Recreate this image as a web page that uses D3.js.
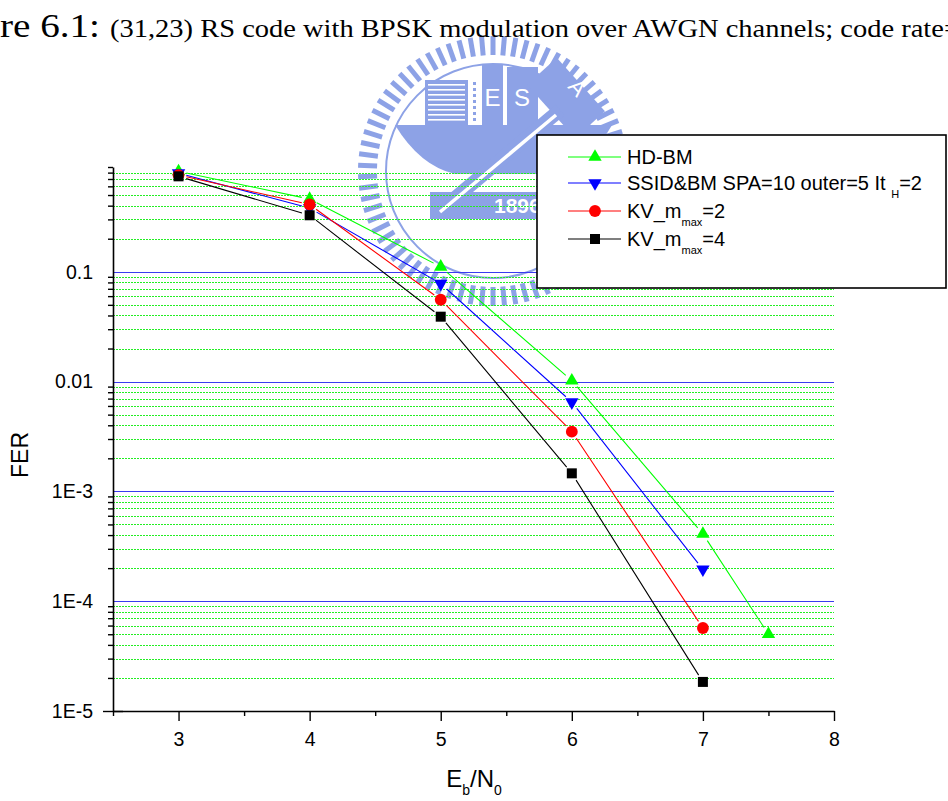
<!DOCTYPE html>
<meta charset="utf-8">
<script src="https://d3js.org/d3.v7.min.js"></script>
<style>
  body { margin: 0; background: #fff; }
  text { font-family: "Liberation Sans", Arial, sans-serif; }
</style>
<div id="my_dataviz"></div>
<script>

  // data
  var ebno = [3, 4, 5, 6, 7]
  var ebnoHD = [3, 4, 5, 6, 7, 7.5]
  var ferHD = [0.82, 0.46, 0.111, 0.0102, 4.1e-4, 5.0e-5]
  var ferSSID = [0.79, 0.38, 0.078, 6.5e-3, 1.95e-4]
  var ferKV2 = [0.76, 0.41, 0.0556, 3.5e-3, 5.7e-5]
  var ferKV4 = [0.74, 0.327, 0.039, 1.46e-3, 1.84e-5]

  var xTicks = [3, 4, 5, 6, 7, 8]
  var xMinorTicks = [2.5, 3.5, 4.5, 5.5, 6.5, 7.5]
  var yTicks = [1e-5, 1e-4, 1e-3, 0.01, 0.1]
  var yTickLabels = ["1E-5", "1E-4", "1E-3", "0.01", "0.1"]

  var width = 948, height = 801

  var svg = d3.select("#my_dataviz")
    .append("svg")
      .attr("width", width)
      .attr("height", height)

  // scales
  var x = d3.scaleLinear().domain([2.5, 8]).range([113, 834])
  var y = d3.scaleLog().domain([1e-5, 0.9]).range([711, 167])

  // minor values 2..9 in every decade
  var yMinor = []
  yTicks.forEach(function(d) {
    for (var k = 2; k <= 9; k++) {
      var v = +(k * d).toPrecision(3)
      if (v <= 0.9) yMinor.push(v)
    }
  })

  // ---- watermark logo (behind everything) ----
  var logoColor = "#8da2e6"
  var cx = 493, cy = 171
  var logo = svg.append("g").attr("fill", logoColor)
  d3.range(74).forEach(function(i) {
    logo.append("rect")
      .attr("x", cx - 2.5).attr("y", cy - 135)
      .attr("width", 5).attr("height", 19)
      .attr("transform", "rotate(" + (i * 360 / 74) + "," + cx + "," + cy + ")")
  })
  logo.append("circle").attr("cx", cx).attr("cy", cy).attr("r", 107)
    .attr("fill", "none").attr("stroke", logoColor).attr("stroke-width", 2)
  // striped block
  logo.append("rect").attr("x", 425).attr("y", 80).attr("width", 43).attr("height", 45)
  d3.range(8).forEach(function(i) {
    logo.append("rect").attr("x", 428).attr("y", 84 + i * 5).attr("width", 37).attr("height", 1.6).attr("fill", "#fff")
  })
  d3.range(7).forEach(function(i) {
    logo.append("rect").attr("x", 473).attr("y", 82 + i * 6).attr("width", 3).attr("height", 3)
  })
  logo.append("rect").attr("x", 482).attr("y", 65).attr("width", 21).attr("height", 60)
  logo.append("rect").attr("x", 507).attr("y", 67).attr("width", 31).attr("height", 58)
  logo.append("text").attr("x", 492.5).attr("y", 106).attr("text-anchor", "middle")
    .attr("fill", "#fff").style("font-size", "24px").text("E")
  logo.append("text").attr("x", 522).attr("y", 106).attr("text-anchor", "middle")
    .attr("fill", "#fff").style("font-size", "24px").text("S")
  var aBlock = logo.append("g").attr("transform", "translate(566,98) rotate(-42)")
  aBlock.append("rect").attr("x", -20).attr("y", -36).attr("width", 40).attr("height", 72)
  aBlock.append("text").attr("x", 0).attr("y", -8).attr("text-anchor", "middle")
    .attr("fill", "#fff").attr("transform", "rotate(90)").style("font-size", "22px").text("A")
  // hull
  logo.append("path")
    .attr("d", "M395,125 H612 L598,148 Q582,172 540,174 L455,174 Q420,166 395,125 Z")
  logo.append("rect").attr("x", 430).attr("y", 192).attr("width", 140).attr("height", 27)
  logo.append("text").attr("x", 494).attr("y", 213)
    .attr("fill", "#fff").style("font-size", "21px").style("font-weight", "bold").text("1896")
  logo.append("line").attr("x1", 560).attr("y1", 110).attr("x2", 436).attr("y2", 214)
    .attr("stroke", logoColor).attr("stroke-width", 14)
  logo.append("line").attr("x1", 556).attr("y1", 115).attr("x2", 440).attr("y2", 212)
    .attr("stroke", "#fff").attr("stroke-width", 3.5)

  // ---- title (clipped caption line) ----
  svg.append("text")
    .attr("x", 0).attr("y", 37)
    .attr("textLength", 100)
    .attr("lengthAdjust", "spacingAndGlyphs")
    .style("font-family", "'Liberation Serif', serif")
    .style("font-size", "33px")
    .text("re 6.1:")
  svg.append("text")
    .attr("x", 110).attr("y", 37)
    .attr("textLength", 850)
    .attr("lengthAdjust", "spacingAndGlyphs")
    .style("font-family", "'Liberation Serif', serif")
    .style("font-size", "26px")
    .text("(31,23) RS code with BPSK modulation over AWGN channels; code rate=")

  // ---- grid ----
  svg.append("g").selectAll("line")
    .data(yMinor.filter(function(d) { return d < 0.9 }))
    .enter().append("line")
      .attr("x1", x(2.5)).attr("x2", x(8))
      .attr("y1", function(d) { return Math.round(y(d)) + 0.5 })
      .attr("y2", function(d) { return Math.round(y(d)) + 0.5 })
      .attr("stroke", "#22ee22")
      .attr("stroke-width", 1)
      .attr("stroke-dasharray", "2,1")
  svg.append("g").selectAll("line")
    .data(yTicks.slice(1))
    .enter().append("line")
      .attr("x1", x(2.5)).attr("x2", x(8))
      .attr("y1", function(d) { return Math.round(y(d)) + 0.5 })
      .attr("y2", function(d) { return Math.round(y(d)) + 0.5 })
      .attr("stroke", "#3b3bf0")
      .attr("stroke-width", 1.2)

  // ---- axes ----
  var axisFont = "19.5px"
  var gx = svg.append("g")
    .attr("transform", "translate(0," + y(1e-5) + ")")
    .call(d3.axisBottom(x).tickValues(xTicks).tickFormat(d3.format("d"))
      .tickSize(10).tickSizeOuter(0).tickPadding(11))
  svg.append("g")
    .attr("transform", "translate(0," + y(1e-5) + ")")
    .call(d3.axisBottom(x).tickValues(xMinorTicks).tickFormat("").tickSize(5).tickSizeOuter(0))
    .select(".domain").remove()
  var gy = svg.append("g")
    .attr("transform", "translate(" + x(2.5) + ",0)")
    .call(d3.axisLeft(y).tickValues(yTicks).tickFormat(function(d, i) { return yTickLabels[i] })
      .tickSize(10).tickSizeOuter(0).tickPadding(10))
  svg.append("g")
    .attr("transform", "translate(" + x(2.5) + ",0)")
    .call(d3.axisLeft(y).tickValues(yMinor).tickFormat("").tickSize(5).tickSizeOuter(0))
    .select(".domain").remove()

  svg.selectAll(".domain").attr("stroke-width", 1.6)
  svg.selectAll(".tick line").attr("stroke-width", 1.4)
  svg.selectAll(".tick text").style("font-size", axisFont)
    .style("font-family", "'Liberation Sans', Arial, sans-serif")
  // y-axis bottom tick crosses the axis
  gy.selectAll(".tick line").attr("x2", function(d) { return d === 1e-5 ? 10 : null }).attr("x1", function(d) { return d === 1e-5 ? -10 : null })

  // axis titles
  svg.append("text")
    .attr("transform", "translate(28,455) rotate(-90)")
    .attr("text-anchor", "middle")
    .style("font-size", "23px")
    .text("FER")
  var xt = svg.append("text")
    .attr("x", 474).attr("y", 787)
    .attr("text-anchor", "middle")
    .style("font-size", "24px")
  xt.append("tspan").text("E")
  xt.append("tspan").attr("dy", 8).style("font-size", "14px").text("b")
  xt.append("tspan").attr("dy", -8).text("/N")
  xt.append("tspan").attr("dy", 8).style("font-size", "14px").text("0")

  // ---- series ----
  var series = [
    { name: "HD-BM", xs: ebnoHD, ys: ferHD, color: "#00ff00", symbol: d3.symbolTriangle, rot: 0, size: 78 },
    { name: "SSID", xs: ebno, ys: ferSSID, color: "#0000ff", symbol: d3.symbolTriangle, rot: 180, size: 78 },
    { name: "KV2", xs: ebno, ys: ferKV2, color: "#ff0000", symbol: d3.symbolCircle, rot: 0, size: 110 },
    { name: "KV4", xs: ebno, ys: ferKV4, color: "#000000", symbol: d3.symbolSquare, rot: 0, size: 100 }
  ]

  var gap = 8
  series.forEach(function(s) {
    var pts = s.xs.map(function(d, i) { return [x(d), y(s.ys[i])] })
    var p = d3.path()
    for (var i = 0; i < pts.length - 1; i++) {
      var dx = pts[i + 1][0] - pts[i][0], dy = pts[i + 1][1] - pts[i][1]
      var len = Math.sqrt(dx * dx + dy * dy)
      var ux = dx / len, uy = dy / len
      p.moveTo(pts[i][0] + ux * gap, pts[i][1] + uy * gap)
      p.lineTo(pts[i + 1][0] - ux * gap, pts[i + 1][1] - uy * gap)
    }
    svg.append("path").attr("d", p.toString())
      .attr("fill", "none").attr("stroke", s.color).attr("stroke-width", 1.1)
  })
  series.forEach(function(s) {
    svg.append("g").selectAll("path")
      .data(s.xs)
      .enter().append("path")
        .attr("d", d3.symbol().type(s.symbol).size(s.size))
        .attr("transform", function(d, i) {
          return "translate(" + x(d) + "," + y(s.ys[i]) + ") rotate(" + s.rot + ")"
        })
        .attr("fill", s.color)
  })

  // ---- legend ----
  var legend = svg.append("g")
  legend.append("rect")
    .attr("x", 537).attr("y", 135).attr("width", 409).attr("height", 153)
    .attr("fill", "#fff").attr("stroke", "#000").attr("stroke-width", 1.6)
  var rowsY = [157, 183, 211, 239]
  series.forEach(function(s, i) {
    var ry = rowsY[i]
    legend.append("line").attr("x1", 568).attr("x2", 621).attr("y1", ry).attr("y2", ry)
      .attr("stroke", s.color).attr("stroke-width", 1.1)
    legend.append("path")
      .attr("d", d3.symbol().type(s.symbol).size(s.size))
      .attr("transform", "translate(595," + ry + ") rotate(" + s.rot + ")")
      .attr("fill", s.color)
  })
  var lt = legend.selectAll("text.lab")
    .data(rowsY).enter().append("text")
      .attr("class", "lab")
      .attr("x", 627).attr("y", function(d) { return d + 7 })
      .style("font-size", "20px")
  d3.select(lt.nodes()[0]).text("HD-BM")
  var t1 = d3.select(lt.nodes()[1])
  t1.append("tspan").text("SSID&BM SPA=10 outer=5 It ")
  t1.append("tspan").attr("dy", 8).style("font-size", "11px").text("H")
  t1.append("tspan").attr("dy", -8).text("=2")
  ;[2, 4].forEach(function(m, j) {
    var t = d3.select(lt.nodes()[2 + j])
    t.append("tspan").text("KV_m")
    t.append("tspan").attr("dy", 8).style("font-size", "11px").text("max")
    t.append("tspan").attr("dy", -8).text("=" + m)
  })

</script>
